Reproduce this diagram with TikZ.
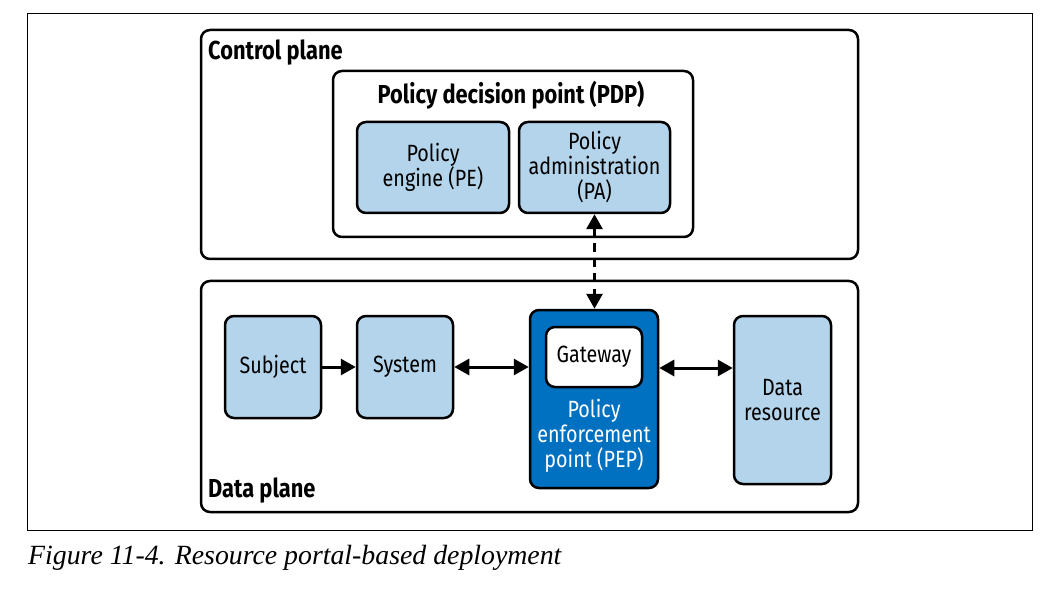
\documentclass[tikz,border=0pt]{standalone}
\usepackage{fontspec}
\newfontfamily\dgfont[FakeStretch=0.84]{Fira Sans}
\newfontfamily\capfont{Liberation Serif}
\usetikzlibrary{arrows.meta}
\definecolor{lightblue}{RGB}{179,212,234}
\definecolor{pepblue}{RGB}{0,112,192}
\begin{document}
\begin{tikzpicture}[x=1pt,y=-1pt,
  frame/.style={draw, line width=2.5pt, rounded corners=9pt},
  lbox/.style={frame, fill=lightblue},
  txt/.style={font=\dgfont\fontsize{23.5}{25}\selectfont, align=center, inner sep=0pt},
  head/.style={font=\dgfont\bfseries\fontsize{26}{28}\selectfont, inner sep=0pt},
  arr/.style={line width=3pt, -{Triangle[length=15pt,width=16pt]}},
  darr/.style={line width=3pt, {Triangle[length=15pt,width=16pt]}-{Triangle[length=15pt,width=16pt]}},
]
\useasboundingbox (0,0) rectangle (1056,601);
\fill[white] (0,0) rectangle (1056,601);
\draw[line width=1pt] (27,14) rectangle (1032,530);

% control plane
\node[frame, minimum width=657pt, minimum height=229pt] (cp) at (529.5,144.5) {};
\node[head, anchor=base west] (cpl) at (208,60) {Control plane};
\node[frame, minimum width=360pt, minimum height=166pt] (pdp) at (513,154) {};
\node[head, anchor=base] (pdpl) at (511,104) {Policy decision point (PDP)};
\node[lbox, minimum width=152pt, minimum height=91pt] (pe) at (433,167.5) {};
\node[txt] at (pe) {Policy\\engine (PE)};
\node[lbox, minimum width=151pt, minimum height=91pt] (pa) at (594.5,167.5) {};
\node[txt] at (pa) {Policy\\administration\\(PA)};

% data plane
\node[frame, minimum width=657pt, minimum height=231pt] (dp) at (529.5,396.5) {};
\node[head, anchor=base west] (dpl) at (208,497) {Data plane};
\node[lbox, minimum width=96pt, minimum height=102pt] (subj) at (273,367) {};
\node[txt] at (subj) {Subject};
\node[lbox, minimum width=96pt, minimum height=102pt] (sys) at (405,367) {};
\node[txt] at (sys) {System};
\node[frame, fill=pepblue, minimum width=128pt, minimum height=178pt] (pep) at (594,399) {};
\node[frame, fill=white, minimum width=96pt, minimum height=60pt] (gw) at (594,357) {};
\node[txt] at (gw) {Gateway};
\node[txt, text=white] (pepl) at (594,436) {Policy\\enforcement\\point (PEP)};
\node[lbox, minimum width=97pt, minimum height=168pt] (data) at (782.5,400) {};
\node[txt] at (data) {Data\\resource};

% connectors
\draw[arr] (subj.east) -- (sys.west);
\draw[darr] (sys.east) -- (sys.east -| pep.west);
\draw[darr] (pep.east |- 0,368) -- (data.west |- 0,368);
\draw[darr, dash pattern=on 9pt off 6pt] (pa.south) -- (pa.south |- pep.north);

% caption
\node[font=\capfont\itshape\fontsize{27.8}{32}\selectfont, anchor=base west, inner sep=0pt] (cap) at (28,564) {Figure 11-4. Resource portal-based deployment};
\end{tikzpicture}
\end{document}
